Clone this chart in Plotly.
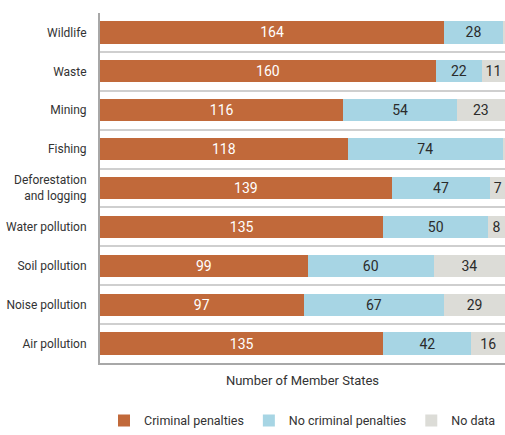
import plotly.graph_objects as go

# Categories listed top to bottom
categories = ["Wildlife", "Waste", "Mining", "Fishing", "Deforestation<br>and logging",
              "Water pollution", "Soil pollution", "Noise pollution", "Air pollution"]
criminal = [164, 160, 116, 118, 139, 135, 99, 97, 135]
no_criminal = [28, 22, 54, 74, 47, 50, 60, 67, 42]
no_data = [1, 11, 23, 1, 7, 8, 34, 29, 16]

series = [
    ("Criminal penalties", criminal, "#C1693A", "white"),
    ("No criminal penalties", no_criminal, "#A7D5E4", "#2b2b2b"),
    ("No data", no_data, "#DCDCD7", "#2b2b2b"),
]

FONT = "Roboto, DejaVu Sans Condensed, sans-serif"
ypos = list(range(len(categories)))

fig = go.Figure()
for name, vals, color, tcolor in series:
    # segments too thin for a readable label are left unlabelled
    labels = [str(v) if v >= 5 else "" for v in vals]
    fig.add_trace(go.Bar(
        name=name, y=ypos, x=vals, orientation="h",
        marker=dict(color=color, line=dict(width=0)),
        width=0.57,
        text=labels, textposition="inside", insidetextanchor="middle",
        textfont=dict(color=tcolor, size=14, family=FONT),
        constraintext="none",
        hoverinfo="skip",
    ))

fig.update_layout(
    barmode="stack",
    width=505, height=435,
    margin=dict(l=100, r=0, t=13, b=72, autoexpand=False),
    plot_bgcolor="white", paper_bgcolor="white",
    font=dict(family=FONT, size=13, color="#333333"),
    showlegend=True,
    legend=dict(orientation="h", x=0.5, xanchor="center", y=-0.165, yanchor="middle",
                font=dict(size=12.5, color="#333333"), itemwidth=30,
                traceorder="normal"),
    xaxis=dict(range=[0, 193], showgrid=False, zeroline=False, automargin=False,
               showticklabels=False, ticks="",
               showline=True, linecolor="#A8A8A8", linewidth=2,
               title=dict(text="Number of Member States", standoff=12,
                          font=dict(size=13, color="#333333"))),
    yaxis=dict(range=[len(categories) - 0.5, -0.5], tickmode="array",
               tickvals=ypos, ticktext=categories, showgrid=False, automargin=False,
               zeroline=False, showline=True, linecolor="#A8A8A8", linewidth=2,
               ticks="", ticklabelstandoff=9,
               tickfont=dict(size=12, color="#333333"),
               minor=dict(tickmode="linear", tick0=-0.5, dtick=1,
                          showgrid=True, gridcolor="#CFCFCF", gridwidth=2, ticks="")),
)

fig.write_html("out.html")
